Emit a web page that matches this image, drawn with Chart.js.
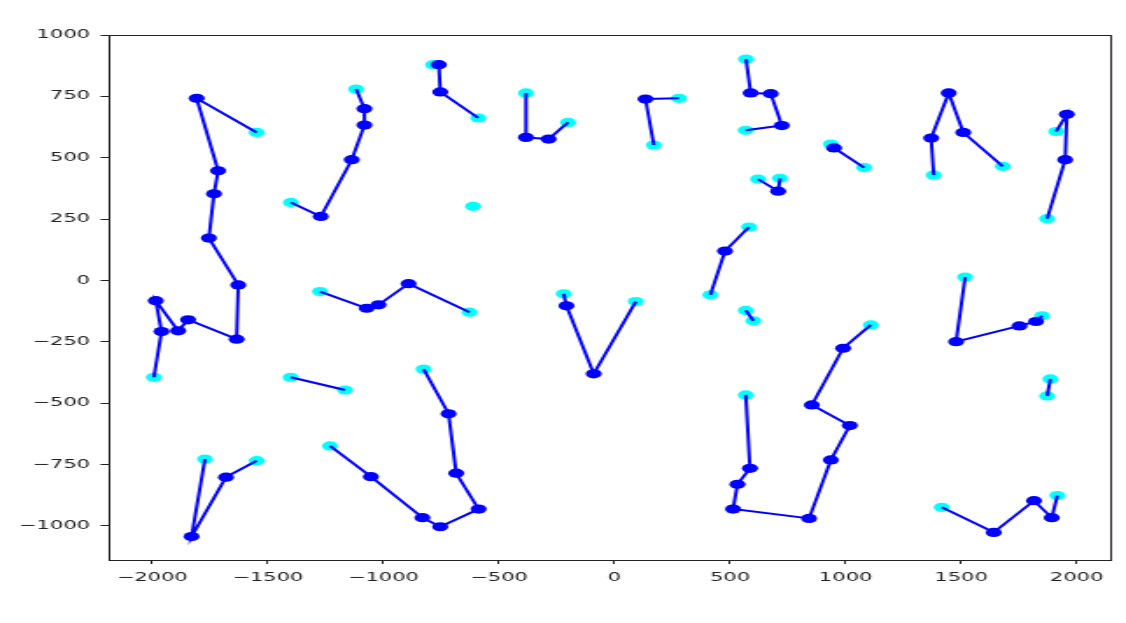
<!DOCTYPE html>
<html>
<head>
<meta charset="utf-8">
<script src="https://cdn.jsdelivr.net/npm/chart.js@4/dist/chart.umd.min.js"></script>
<style>
  html, body { margin: 0; padding: 0; background: #fff; overflow: hidden; }
  body { width: 1126px; height: 623px; }
  /* the reference is a plot stretched sideways, so draw narrow and stretch */
  #wrap { width: 643px; height: 623px; transform: scaleX(1.7512); transform-origin: 0 0; }
</style>
</head>
<body>
<div id="wrap"><canvas id="chart" width="643" height="623"></canvas></div>
<script>
// tick labels
const xTicks = [-2000, -1500, -1000, -500, 0, 500, 1000, 1500, 2000];
const yTicks = [-1000, -750, -500, -250, 0, 250, 500, 750, 1000];

// routes, [x, y] per stop; first and last stops are the cyan ends
const routeA = [[-1548,603],[-1808,742],[-1715,447],[-1733,353],[-1755,173],[-1628,-18],[-1635,-239],[-1845,-160],[-1888,-205],[-1985,-82],[-1960,-208],[-1993,-394]];
const routeB = [[-1118,780],[-1082,700],[-1082,633],[-1137,492],[-1271,261],[-1400,318]];
const routeC = [[-785,879],[-760,879],[-754,768],[-590,662]];
const routeD = [[-612,302]];
const routeE = [[-383,764],[-383,583],[-285,576],[-201,644]];
const routeF = [[279,742],[134,739],[170,552]];
const routeG = [[569,902],[589,764],[676,761],[724,631],[568,612]];
const routeH = [[621,413],[708,364],[716,416]];
const routeI = [[582,218],[478,120],[415,-58]];
const routeJ = [[936,556],[950,540],[1080,460]];
const routeK = [[1381,430],[1370,580],[1446,764],[1509,603],[1680,465]];
const routeL = [[1911,607],[1957,677],[1950,492],[1872,252]];
const routeM = [[1517,14],[1478,-249],[1752,-185],[1824,-167],[1850,-144]];
const routeN = [[1886,-401],[1872,-470]];
const routeO = [[1416,-924],[1641,-1026],[1815,-897],[1892,-966],[1916,-876]];
const routeP = [[1109,-181],[989,-276],[854,-507],[1018,-591],[936,-731],[842,-969],[513,-931],[532,-830],[586,-765],[568,-466]];
const routeQ = [[-220,-54],[-208,-103],[-90,-380],[92,-86]];
const routeR = [[568,-122],[601,-164]];
const routeS = [[-1274,-45],[-1072,-113],[-1021,-99],[-891,-13],[-627,-129]];
const routeT = [[-1401,-394],[-1166,-446]];
const routeU = [[-1772,-727],[-1830,-1043],[-1681,-801],[-1548,-734]];
const routeV = [[-1231,-674],[-1054,-799],[-831,-966],[-754,-1003],[-588,-931],[-685,-785],[-718,-543],[-826,-361]];

const routes = [routeA, routeB, routeC, routeD, routeE, routeF, routeG, routeH, routeI, routeJ, routeK,
                routeL, routeM, routeN, routeO, routeP, routeQ, routeR, routeS, routeT, routeU, routeV];

function toPts(arr){
    return arr.map(function(p){ return {x: p[0], y: p[1]}; });
}

// cyan end points, drawn underneath everything
var ends = [];
for (var i = 0; i < routes.length; i++){
    var r = routes[i];
    ends.push(r[0]);
    if (r.length > 1) ends.push(r[r.length-1]);
}

var datasets = [{
    data: toPts(ends),
    showLine: false,
    pointRadius: 4.6,
    pointBackgroundColor: '#00ffff',
    pointBorderWidth: 0,
    order: 1
}];

for (var i = 0; i < routes.length; i++){
    var n = routes[i].length;
    if (n < 2) continue;
    datasets.push({
        data: toPts(routes[i]),
        showLine: true,
        borderColor: '#0000ff',
        borderWidth: 2,
        pointRadius: function(ctx){
            var len = ctx.dataset.data.length;
            return (ctx.dataIndex === 0 || ctx.dataIndex === len-1) ? 0 : 4.6;
        },
        pointBackgroundColor: '#0000ff',
        pointBorderWidth: 0,
        order: 0
    });
}

// top and right spines
var frame = {
    id: 'frame',
    afterDatasetsDraw: function(chart){
        var a = chart.chartArea, c = chart.ctx;
        c.save();
        c.strokeStyle = '#222';
        c.lineWidth = 1;
        c.strokeRect(Math.round(a.left)+0.5, Math.round(a.top)+0.5,
                     Math.round(a.right-a.left), Math.round(a.bottom-a.top));
        c.restore();
    }
};

function fmt(v){
    return String(v).replace('-', '\u2212');
}

new Chart(document.getElementById('chart').getContext('2d'), {
    type: 'scatter',
    data: { datasets: datasets },
    plugins: [frame],
    options: {
        responsive: false,
        animation: false,
        events: [],
        layout: { padding: { top: 35, right: 9, left: 0, bottom: 0 } },
        plugins: { legend: { display: false }, tooltip: { enabled: false } },
        scales: {
            x: {
                type: 'linear',
                min: -2186, max: 2145,
                afterBuildTicks: function(s){ s.ticks = xTicks.map(function(v){ return {value: v}; }); },
                afterFit: function(s){ s.height = 63; },
                grid: { drawOnChartArea: false, drawTicks: true, tickLength: 4, tickColor: '#222' },
                border: { display: true, color: '#222', width: 1 },
                ticks: {
                    color: '#222', padding: 7, maxRotation: 0, autoSkip: false,
                    font: { family: 'DejaVu Sans', size: 12 },
                    callback: fmt
                }
            },
            y: {
                type: 'linear',
                min: -1138.5, max: 1000,
                afterBuildTicks: function(s){ s.ticks = yTicks.map(function(v){ return {value: v}; }); },
                afterFit: function(s){ s.width = 62.4; },
                grid: { drawOnChartArea: false, drawTicks: true, tickLength: 5, tickColor: '#222' },
                border: { display: true, color: '#222', width: 1 },
                ticks: {
                    color: '#222', padding: 6, autoSkip: false,
                    font: { family: 'DejaVu Sans', size: 12 },
                    callback: fmt
                }
            }
        }
    }
});
</script>
</body>
</html>
